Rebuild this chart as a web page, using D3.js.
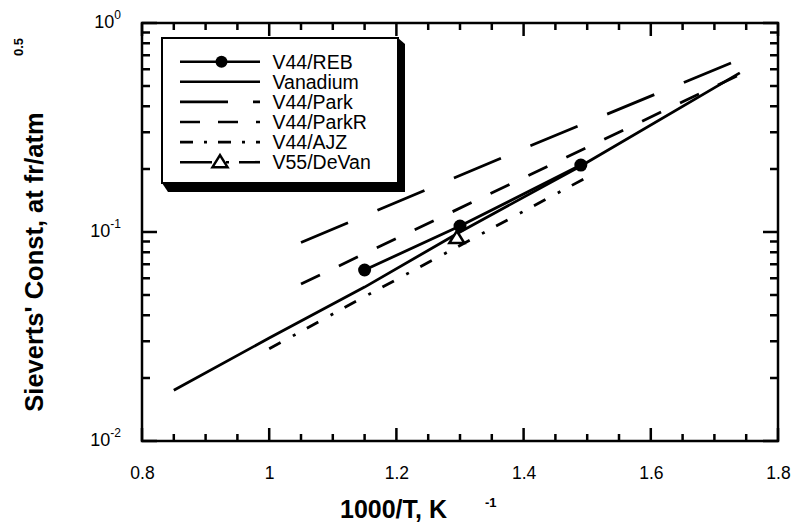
<!DOCTYPE html>
<html lang="en">
<head>
  <meta charset="UTF-8">
  <style>
    body { margin: 0; background: #fff; }
    svg { display: block; font-family: Arial, "Liberation Sans", sans-serif; }
    .frame { fill: none; stroke: #000; stroke-width: 2.5; }
    .ticks { fill: none; stroke: #000; stroke-width: 2.5; }
    .series { fill: none; stroke: #000; stroke-width: 2.8; stroke-linejoin: round; }
  </style>
</head>
<body>
  <svg id="chart" width="795" height="527"></svg>
  <script src="https://cdnjs.cloudflare.com/ajax/libs/d3/7.8.5/d3.min.js"></script>
  <script>
    // values
    const vanadiumX = [0.85, 1.0, 1.15, 1.3, 1.49, 1.74]
    const vanadiumY = [0.0175, 0.0311, 0.0545, 0.100, 0.207, 0.577]
    const rebX = [1.15, 1.3, 1.49]
    const rebY = [0.0658, 0.1068, 0.209]
    const parkX = [1.05, 1.41, 1.73]
    const parkY = [0.089, 0.258, 0.651]
    const parkRX = [1.05, 1.50, 1.74]
    const parkRY = [0.0564, 0.254, 0.567]
    const ajzX = [1.0, 1.13, 1.5]
    const ajzY = [0.0276, 0.0455, 0.183]
    const devanX = [1.295]
    const devanY = [0.0936]

    const xMajor = [0.8, 1.0, 1.2, 1.4, 1.6, 1.8]
    const xLabels = ['0.8', '1', '1.2', '1.4', '1.6', '1.8']
    const xMinor = d3.range(0.85, 1.8, 0.05).map(v => +v.toFixed(2))
    const yMajor = [0.01, 0.1, 1]
    const yMinor = [2, 3, 4, 5, 6, 7, 8, 9].flatMap(m => [m * 0.01, m * 0.1])

    const zip = (xs, ys) => xs.map((x, i) => ({ x: x, y: ys[i] }))

    // name, points, dash on plot, dash in legend, marker
    const series = [
      { name: 'V44/REB', data: zip(rebX, rebY), dash: null, legendDash: null, marker: 'circle' },
      { name: 'Vanadium', data: zip(vanadiumX, vanadiumY), dash: null, legendDash: null, marker: null },
      { name: 'V44/Park', data: zip(parkX, parkY), dash: '51,32', legendDash: '48,25', marker: null },
      { name: 'V44/ParkR', data: zip(parkRX, parkRY), dash: '21,21', legendDash: '20,18', marker: null },
      { name: 'V44/AJZ', data: zip(ajzX, ajzY), dash: '13,14,3,13', legendDash: '13,11,3,11', marker: null },
      { name: 'V55/DeVan', data: zip(devanX, devanY), dash: '32,14,3,10', legendDash: '32,14,3,10', marker: 'triangle' },
    ]

    const plot = { left: 142, right: 778, top: 23, bottom: 441 }

    const xScale = d3.scaleLinear()
      .domain([0.8, 1.8])
      .range([plot.left, plot.right])
    const yScale = d3.scaleLog()
      .domain([0.01, 1])
      .range([plot.bottom, plot.top])

    const svg = d3.select('#chart')

    // y labels as 10 with exponent
    const yLab = svg.append('g')
      .selectAll('text')
      .data(yMajor)
      .enter().append('text')
        .attr('x', 121)
        .attr('y', d => yScale(d) + 5)
        .attr('text-anchor', 'end')
        .attr('font-size', 18)
    yLab.append('tspan').text('10')
    yLab.append('tspan')
        .attr('dy', -9)
        .attr('font-size', 12)
        .text(d => String(Math.round(Math.log10(d))))

    // Axis titles
    // =========
    svg.append('text')
        .attr('x', 340)
        .attr('y', 518)
        .attr('font-size', 25)
        .attr('font-weight', 'bold')
        .text('1000/T, K')
    svg.append('text')
        .attr('x', 485)
        .attr('y', 507)
        .attr('font-size', 13)
        .attr('font-weight', 'bold')
        .text('-1')
    svg.append('text')
        .attr('transform', 'translate(43, 262) rotate(-90)')
        .attr('text-anchor', 'middle')
        .attr('font-size', 25.5)
        .attr('font-weight', 'bold')
        .text("Sieverts' Const, at fr/atm")
    svg.append('text')
        .attr('transform', 'translate(23, 47) rotate(-90)')
        .attr('text-anchor', 'middle')
        .attr('font-size', 13)
        .attr('font-weight', 'bold')
        .text('0.5')

    // Series
    // =========
    const line = d3.line()
      .x(d => xScale(d.x))
      .y(d => yScale(d.y))

    const triangle = (cx, cy) =>
      `M${cx},${cy - 7} L${cx + 7.5},${cy + 5} L${cx - 7.5},${cy + 5} Z`

    const marks = svg.append('g')
    series.forEach(s => {
      if (s.data.length > 1) {
        marks.append('path')
            .datum(s.data)
            .attr('class', 'series')
            .attr('stroke-dasharray', s.dash)
            .attr('d', line)
      }
      if (s.marker === 'circle') {
        marks.selectAll(null)
          .data(s.data)
          .enter().append('circle')
            .attr('cx', d => xScale(d.x))
            .attr('cy', d => yScale(d.y))
            .attr('r', 6.5)
            .attr('fill', '#000')
      }
      if (s.marker === 'triangle') {
        marks.selectAll(null)
          .data(s.data)
          .enter().append('path')
            .attr('d', d => triangle(xScale(d.x), yScale(d.y)))
            .attr('fill', '#fff')
            .attr('stroke', '#000')
            .attr('stroke-width', 2.5)
      }
    })

    // Legend
    // =========
    const box = { left: 162, top: 38, right: 398, bottom: 183 }
    const legend = svg.append('g')
    legend.append('path')
        .attr('d', `M${box.left},${box.bottom} L${box.left + 6},${box.bottom + 9} L${box.right + 7},${box.bottom + 9} L${box.right + 7},${box.top + 6} L${box.right},${box.top} Z`)
        .attr('fill', '#000')
    legend.append('rect')
        .attr('x', box.left)
        .attr('y', box.top)
        .attr('width', box.right - box.left)
        .attr('height', box.bottom - box.top)
        .attr('fill', '#fff')
        .attr('stroke', '#000')
        .attr('stroke-width', 2)

    const rows = legend.selectAll('g.row')
      .data(series)
      .enter().append('g')
        .attr('class', 'row')
        .attr('transform', (d, i) => `translate(0, ${61.7 + i * 20.1})`)
    rows.append('line')
        .attr('x1', 180)
        .attr('x2', 260)
        .attr('stroke', '#000')
        .attr('stroke-width', 2.6)
        .attr('stroke-dasharray', d => d.legendDash)
    rows.filter(d => d.marker === 'circle')
      .append('circle')
        .attr('cx', 221.5)
        .attr('r', 6)
        .attr('fill', '#000')
    rows.filter(d => d.marker === 'triangle')
      .append('path')
        .attr('d', triangle(220, 0))
        .attr('fill', '#fff')
        .attr('stroke', '#000')
        .attr('stroke-width', 2.5)
    rows.append('text')
        .attr('x', 272.5)
        .attr('y', 7)
        .attr('font-size', 19.5)
        .text(d => d.name)

    // Frame and inward ticks on all four sides
    // =========
    svg.append('rect')
        .attr('class', 'frame')
        .attr('x', plot.left)
        .attr('y', plot.top)
        .attr('width', plot.right - plot.left)
        .attr('height', plot.bottom - plot.top)

    const xTicks = (vals, len) => vals.map(v => {
      const x = xScale(v)
      return `M${x},${plot.bottom}V${plot.bottom - len}M${x},${plot.top}V${plot.top + len}`
    }).join('')
    const yTicks = (vals, len) => vals.map(v => {
      const y = yScale(v)
      return `M${plot.left},${y}H${plot.left + len}M${plot.right},${y}H${plot.right - len}`
    }).join('')
    svg.append('path')
        .attr('class', 'ticks')
        .attr('d', xTicks(xMinor, 7) + xTicks(xMajor, 13) + yTicks(yMinor, 8) + yTicks(yMajor, 15))

    // x tick labels from the axis generator
    const xAxis = svg.append('g')
        .attr('transform', `translate(0, ${plot.bottom})`)
        .call(d3.axisBottom(xScale)
          .tickValues(xMajor)
          .tickSize(0)
          .tickPadding(26)
          .tickFormat((d, i) => xLabels[i]))
    xAxis.select('.domain').remove()
    xAxis.selectAll('text')
        .attr('font-size', 17.5)
        .attr('font-family', 'Arial, "Liberation Sans", sans-serif')
        .attr('fill', '#000')
  </script>
</body>
</html>
